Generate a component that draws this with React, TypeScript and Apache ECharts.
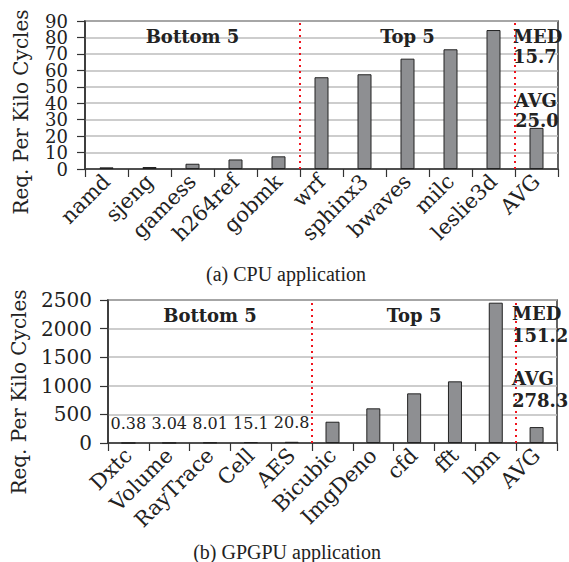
import React, { useEffect, useRef } from "react";
import * as echarts from "echarts";

const cpuCategories = ["namd", "sjeng", "gamess", "h264ref", "gobmk", "wrf", "sphinx3", "bwaves", "milc", "leslie3d", "AVG"];
const cpuValues = [1.0, 1.2, 3.2, 5.8, 7.7, 55.8, 57.6, 67.1, 72.8, 84.5, 25.0];
const gpuCategories = ["Dxtc", "Volume", "RayTrace", "Cell", "AES", "Bicubic", "ImgDeno", "cfd", "fft", "lbm", "AVG"];
const gpuValues = [0.38, 3.04, 8.01, 15.1, 20.8, 372, 606, 868, 1078, 2453, 278.3];
const gpuLabeledCount = 5;
const groupBounds = [5, 10];
const groupNames = ["Bottom 5", "Top 5"];
const cpuTicks = { min: 0, max: 90, interval: 10 };
const gpuTicks = { min: 0, max: 2500, interval: 500 };
const cpuMed = "15.7";
const cpuAvg = "25.0";
const gpuMed = "151.2";
const gpuAvg = "278.3";
const yName = "Req. Per Kilo Cycles";
const captions = ["(a) CPU application", "(b) GPGPU application"];

const SERIF = '"DejaVu Serif", serif';
const TEXT = "#222";

type Ticks = { min: number; max: number; interval: number };

export default function App() {
  const ref = useRef<HTMLDivElement>(null);
  useEffect(() => {
    if (!ref.current) return;
    const chart = echarts.init(ref.current, undefined, { renderer: "svg" });

    const catAxis = (gridIndex: number, data: string[]) => ({
      type: "category",
      gridIndex,
      data,
      boundaryGap: true,
      axisLine: { lineStyle: { color: "#333", width: 1.5 } },
      axisTick: { show: true, alignWithLabel: false, length: 8, lineStyle: { color: "#333", width: 1.2 } },
      axisLabel: { interval: 0, rotate: 45, margin: 9, fontFamily: SERIF, fontSize: 21, color: TEXT, hideOverlap: false },
      splitLine: { show: false },
    });
    // parity: -1 = all labels, 0 = even tick steps only, 1 = odd tick steps only
    const valAxis = (gridIndex: number, t: Ticks, margin: number, fontSize: number, parity: number, primary: boolean) => ({
      type: "value",
      gridIndex,
      position: "left",
      min: t.min,
      max: t.max,
      interval: t.interval,
      axisLine: { show: primary, lineStyle: { color: "#333", width: 1.5 } },
      axisTick: { show: primary, length: 8, lineStyle: { color: "#333", width: 1.2 } },
      axisLabel: {
        margin,
        fontFamily: SERIF,
        fontSize,
        color: TEXT,
        showMinLabel: true,
        showMaxLabel: true,
        hideOverlap: false,
        formatter: (v: number) => {
          const step = Math.round((v - t.min) / t.interval);
          if (parity >= 0 && step % 2 !== parity) return "";
          return String(v);
        },
      },
      splitLine: { show: primary, lineStyle: { color: "#bdbdbd", width: 1.5 } },
    });
    const helperAxis = (gridIndex: number, n: number) => ({
      type: "value",
      gridIndex,
      min: 0,
      max: n,
      show: false,
    });

    const barStyle = { color: "#8e8f92", borderColor: "#222", borderWidth: 1 };

    const markerSeries = (xAxisIndex: number, yAxisIndex: number) => ({
      type: "line",
      xAxisIndex,
      yAxisIndex,
      data: groupBounds.map((b) => [b, 0]),
      showSymbol: false,
      symbol: "none",
      lineStyle: { width: 0, opacity: 0 },
      silent: true,
      z: 5,
      markLine: {
        symbol: "none",
        silent: true,
        label: { show: false },
        lineStyle: { color: "#f0141e", type: [2, 4], width: 2 },
        data: groupBounds.map((b) => ({ xAxis: b })),
      },
      markArea: {
        silent: true,
        itemStyle: { color: "transparent" },
        label: {
          show: true,
          position: "insideTop",
          distance: 6,
          fontFamily: SERIF,
          fontWeight: "bold",
          fontSize: 18,
          color: TEXT,
        },
        data: groupNames.map((name, i) => [
          { name, xAxis: i === 0 ? 0 : groupBounds[i - 1] },
          { xAxis: groupBounds[i] },
        ]),
      },
    });

    const boldFont = `bold 18px ${SERIF}`;
    const yNameFont = `20px ${SERIF}`;
    const capFont = `20px "Liberation Serif", serif`;

    chart.setOption({
      animation: false,
      backgroundColor: "#fff",
      grid: [
        { left: 85, top: 21, width: 473, height: 148, show: true, borderColor: "#333", borderWidth: 1.5, backgroundColor: "transparent" },
        { left: 108, top: 300, width: 449, height: 143, show: true, borderColor: "#333", borderWidth: 1.5, backgroundColor: "transparent" },
      ],
      xAxis: [
        catAxis(0, cpuCategories),
        catAxis(1, gpuCategories),
        helperAxis(0, cpuCategories.length),
        helperAxis(1, gpuCategories.length),
      ],
      yAxis: [
        valAxis(0, cpuTicks, 17, 18, 0, true),
        valAxis(1, gpuTicks, 16, 20, -1, true),
        valAxis(0, cpuTicks, 17, 18, 1, false),
      ],
      series: [
        {
          type: "bar",
          xAxisIndex: 0,
          yAxisIndex: 0,
          data: cpuValues,
          barWidth: 14,
          itemStyle: barStyle,
        },
        {
          type: "bar",
          xAxisIndex: 1,
          yAxisIndex: 1,
          data: gpuValues.map((v, i) => ({
            value: v,
            label: {
              show: i < gpuLabeledCount,
              position: "top",
              distance: 11,
              formatter: "{c}",
              fontFamily: SERIF,
              fontSize: 16,
              color: TEXT,
            },
          })),
          barWidth: 14,
          itemStyle: barStyle,
        },
        markerSeries(2, 0),
        markerSeries(3, 1),
      ],
      graphic: [
        { type: "text", x: 21, y: 112, rotation: Math.PI / 2, style: { text: yName, font: yNameFont, fill: TEXT, align: "center", verticalAlign: "middle" } },
        { type: "text", x: 19, y: 392, rotation: Math.PI / 2, style: { text: yName, font: yNameFont, fill: TEXT, align: "center", verticalAlign: "middle" } },
        { type: "text", x: 286, y: 274, style: { text: captions[0], font: capFont, fill: TEXT, align: "center", verticalAlign: "middle" } },
        { type: "text", x: 287, y: 552, style: { text: captions[1], font: capFont, fill: TEXT, align: "center", verticalAlign: "middle" } },
        { type: "text", x: 513, y: 26, z: 10, style: { text: `MED\n${cpuMed}`, font: boldFont, lineHeight: 20, fill: TEXT, align: "left", verticalAlign: "top" } },
        { type: "text", x: 515, y: 90, z: 10, style: { text: `AVG\n${cpuAvg}`, font: boldFont, lineHeight: 20, fill: TEXT, align: "left", verticalAlign: "top" } },
        { type: "text", x: 512, y: 302, z: 10, style: { text: `MED\n${gpuMed}`, font: boldFont, lineHeight: 22, fill: TEXT, align: "left", verticalAlign: "top" } },
        { type: "text", x: 512, y: 367, z: 10, style: { text: `AVG\n${gpuAvg}`, font: boldFont, lineHeight: 22, fill: TEXT, align: "left", verticalAlign: "top" } },
      ],
    });

    return () => chart.dispose();
  }, []);

  return <div ref={ref} style={{ position: "fixed", left: 0, top: 0, width: 569, height: 562 }} />;
}
